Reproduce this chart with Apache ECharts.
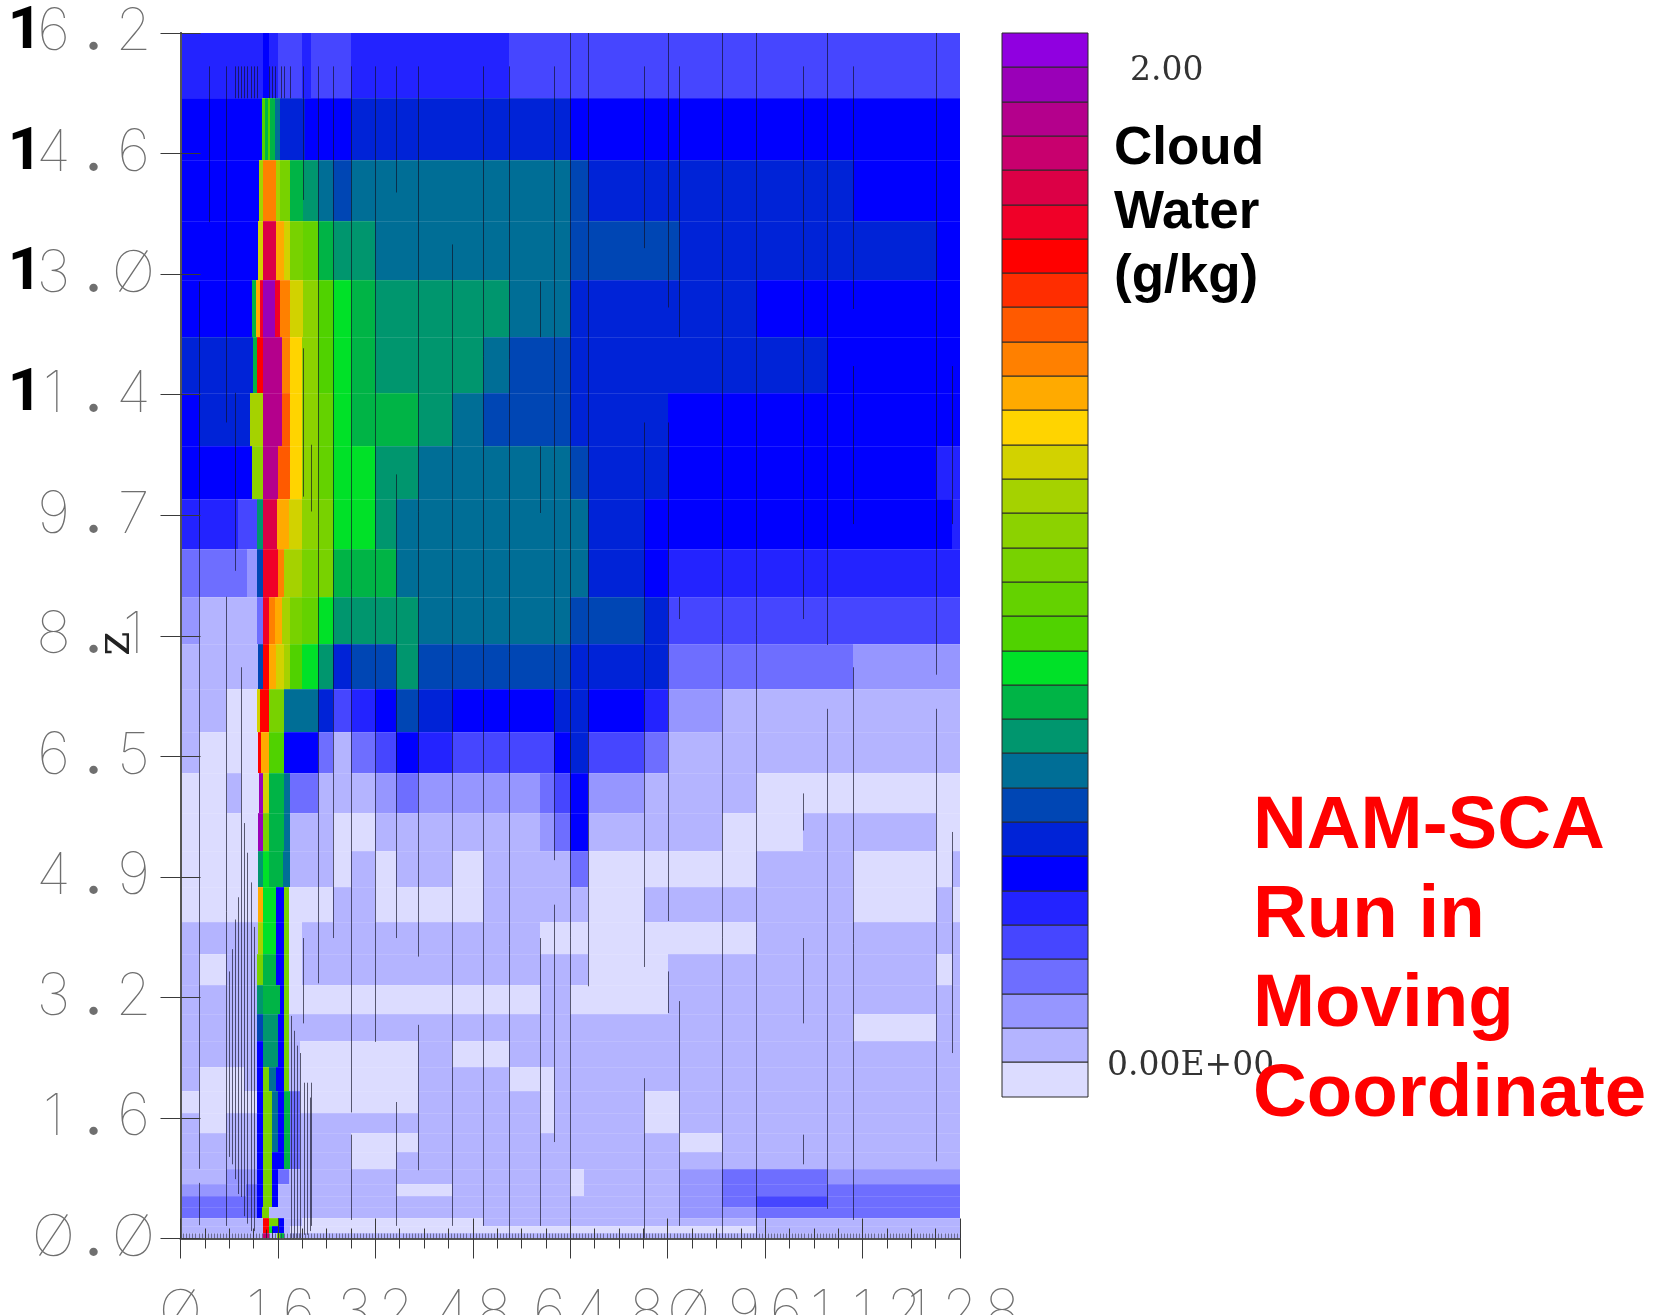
<!DOCTYPE html>
<html><head><meta charset="utf-8">
<style>html,body{margin:0;padding:0;background:#fff;overflow:hidden}#c{width:1663px;height:1315px}</style>
<script src="https://cdn.jsdelivr.net/npm/echarts@6/dist/echarts.min.js"></script>
</head><body><div id="c"></div>
<script>
// Colour levels, lightest (0.00) to darkest (2.00)
const palette = ['#dcdcff','#b4b4ff','#9696ff','#6e6eff','#4646ff','#2323ff','#0000ff','#0023d7','#0046b4','#006e96','#00966e','#00b446','#00e128','#50d200','#64d200','#78d200','#8cd200','#a5d200','#d2d200','#ffd400','#ffaa00','#ff8000','#ff5a00','#ff2d00','#ff0000','#f00028','#dc0046','#c8006e','#b4008c','#9a00b8','#9000e0'];
const xTickLabels = ['0','16','32','48','64','80','96','112','128'];
const yTickLabels = ['0.0','1.6','3.2','4.9','6.5','8.1','9.7','11.4','13.0','14.6','16.2'];
// Layer edges in z, top to bottom
const zEdges = [16.25,15.37,14.54,13.72,12.92,12.15,11.40,10.68,9.97,9.30,8.65,8.01,7.41,6.83,6.27,5.74,5.23,4.74,4.27,3.84,3.42,3.03,2.66,2.31,1.99,1.69,1.42,1.17,0.94,0.74,0.57,0.42,0.28,0.17,0.08,0];
// For each layer, top to bottom: runs of [x at end of run, colour level]
const rowRuns = [
[[13.5,5],[14.5,6],[16,5],[20,4],[21.4,5],[28,4],[54,5],[128,4]],
[[13.4,6],[13.9,13],[14.3,11],[14.7,13],[15.5,11],[16.3,9],[20.4,7],[28,6],[64,7],[128,6]],
[[12.9,6],[13.5,17],[15.6,21],[16.3,17],[18,15],[20.1,11],[22.5,10],[25,9],[28,8],[64,9],[66.9,8],[110.5,7],[128,6]],
[[12.7,6],[13.5,18],[15.6,26],[17,20],[18,18],[20.1,15],[22.5,14],[25,11],[32,10],[64,9],[81.9,8],[124,7],[128,6]],
[[11.7,6],[12.4,11],[13,20],[13.5,25],[15.5,29],[16.3,25],[18,21],[20.1,18],[22.5,16],[25,13],[28,12],[32,11],[53.9,10],[64,9],[94.5,7],[128,6]],
[[11.9,7],[12.6,11],[13.5,24],[16.6,28],[18,21],[20,19],[22.5,16],[25,13],[28,12],[32,11],[49.6,10],[53.9,9],[64,8],[106.1,7],[128,6]],
[[3.1,6],[11.4,7],[13.5,17],[16.6,28],[18,22],[20,19],[22.5,16],[25,14],[28,12],[39,11],[44.6,10],[49.6,9],[64,8],[80,7],[128,6]],
[[11.8,6],[13.5,16],[16,28],[18,22],[20,19],[22.5,16],[25,14],[32,12],[39,10],[64,9],[66.9,8],[80,7],[124,6],[128,5]],
[[9.4,5],[12.6,4],[13.5,10],[15.8,26],[17.8,20],[20,18],[22.5,16],[25,15],[32,12],[35.4,10],[66.9,9],[76.1,7],[126.7,6],[128,5]],
[[11,3],[12.5,2],[13.5,8],[16,25],[17,21],[20,17],[25,15],[35.4,11],[66.9,9],[76.1,7],[80,6],[128,5]],
[[3.1,2],[12.5,1],[13.5,3],[14.5,25],[15.5,21],[16.6,20],[18,17],[20,15],[22.5,14],[25,12],[39,10],[64,9],[76.1,8],[80,7],[128,4]],
[[12.7,1],[13.5,8],[14.5,24],[15.6,20],[17,18],[18,17],[20,13],[22.5,12],[25,10],[28,7],[35.4,8],[39,10],[64,8],[80,7],[110.5,3],[128,2]],
[[7.5,1],[12.6,0],[13.1,18],[14.5,24],[17,15],[22.5,9],[25,7],[28,4],[32,5],[35.4,6],[39,8],[44.6,7],[61.3,6],[66.9,7],[76.1,6],[80,5],[89,2],[128,1]],
[[3.1,1],[12.7,0],[13.3,24],[14.5,20],[17,13],[22.5,6],[25,3],[28,1],[32,3],[35.4,4],[39,6],[44.6,5],[61.3,4],[64,6],[66.9,7],[76.1,4],[80,3],[128,1]],
[[7.6,0],[10,1],[12.9,0],[13.5,29],[14.5,18],[17,11],[18,9],[22.5,3],[32,1],[35.4,2],[39,3],[59,2],[61.3,3],[64,4],[66.9,6],[76.1,2],[94.5,1],[128,0]],
[[12.7,0],[13.5,29],[14.5,15],[17,11],[18,9],[25,1],[32,0],[59,1],[61.3,2],[64,3],[66.9,6],[89,1],[102.2,0],[124,1],[128,0]],
[[12.7,0],[13.5,10],[14.5,12],[16.8,11],[18,9],[25,1],[28,0],[32,1],[35.4,0],[44.6,1],[49.6,0],[64,1],[66.9,3],[94.5,0],[110.5,1],[126.7,0],[128,1]],
[[12.7,0],[13.6,20],[15.6,12],[17,6],[17.8,15],[25,0],[32,1],[49.6,0],[66.9,1],[76.1,0],[110.5,1],[124,0],[126.7,1],[128,0]],
[[12.7,1],[13.6,17],[15.6,12],[17,6],[17.8,15],[20,0],[59,1],[94.5,0],[128,1]],
[[3.1,1],[7.5,0],[12.6,1],[13.6,15],[15.6,11],[17,6],[17.8,15],[20,0],[66.9,1],[80,0],[124,1],[126.7,0],[128,1]],
[[12.6,1],[13.6,10],[16.4,11],[17,6],[17.8,15],[59,0],[64,1],[80,0],[128,1]],
[[12.6,1],[13.6,8],[16,10],[17,6],[17.8,15],[110.5,1],[124,0],[128,1]],
[[12.6,1],[13.6,6],[16,10],[17,6],[17.8,15],[19.7,1],[39,0],[44.6,1],[53.9,0],[128,1]],
[[3.1,1],[10.5,0],[12.6,1],[13.6,6],[14.5,15],[15.6,9],[17,6],[17.8,15],[19.7,1],[39,0],[53.9,1],[61.3,0],[128,1]],
[[12.6,0],[13.6,6],[15,15],[16,9],[17,6],[18,11],[19.7,3],[39,0],[59,1],[61.3,0],[76.1,1],[81.9,0],[128,1]],
[[3.1,1],[7.5,0],[12.6,1],[13.6,6],[15,15],[16,9],[17,6],[18,11],[19.7,3],[59,1],[61.3,0],[76.1,1],[81.9,0],[128,1]],
[[12.6,1],[13.6,6],[15,15],[16,9],[17,6],[18,11],[19.7,3],[28,1],[39,0],[81.9,1],[89,0],[128,1]],
[[12.6,1],[13.6,6],[15,15],[17,6],[18,11],[19.7,3],[28,1],[35.4,0],[128,1]],
[[7.5,1],[12.6,2],[13.6,6],[15,15],[16,6],[17.8,3],[64,1],[66.2,0],[81.9,1],[89,2],[106.1,3],[128,2]],
[[10.8,2],[12.6,3],[13.6,6],[15,15],[16,6],[35.4,1],[44.6,0],[64,1],[66.2,0],[81.9,1],[89,2],[128,3]],
[[12.6,3],[13.6,6],[15,15],[16,6],[81.9,1],[89,2],[94.5,3],[106.1,4],[128,3]],
[[12.6,3],[13.4,6],[14.5,15],[17.8,1],[81.9,1],[94.5,2],[128,3]],
[[13.5,1],[14.5,24],[16,15],[17,6],[20,1],[49.6,0],[128,1]],
[[13.5,1],[14.5,24],[15,12],[17,6],[18,1],[94.5,0],[128,1]],
[[13.5,1],[14.5,27],[15.8,1],[16.3,15],[17,11],[128,1]]
];
// Dark contour strokes: [x, z bottom, z top]
const darkLines = [
[3.1,0.94,12.9],[3.1,0.18,0.75],[4.7,13.7,15.8],[7.4,11,15.8],[7.4,0.17,8.65],[9,9,11.4],[10,0.56,7.7],
[20.1,14,15.8],[20.1,10,12],[20.1,2.9,4.05],[21.4,0.17,2.1],[21.4,9.8,10.7],[22.5,3.44,15.8],[25,4.05,15.8],[28,1.7,15.8],[28,0.25,1.4],
[32,2.65,15.8],[35.4,14.1,15.8],[35.4,4.05,10.3],[35.4,0.17,1.84],[39,3.8,15.8],[39,0.92,2.88],[44.6,0.17,13.4],[49.6,0.17,15.8],
[53.9,0,15.8],[59,12.15,12.9],[59,9.78,10.68],[59,0.17,4.05],[61.3,5.1,15.8],[61.3,1.3,4.5],[64,0,16.25],[66.9,3.4,16.25],
[76.1,13.35,15.8],[76.1,3.66,11],[76.1,0,2.16],[80,12.55,16.25],[80,4.28,11],[80,3.04,3.6],[81.9,12.15,15.8],[81.9,8.35,8.65],[81.9,0.17,3.2],
[89,0,16.25],[94.5,0,16.25],[102.2,8.35,15.8],[102.2,5.5,6],[102.2,2.9,4.05],[102.2,1,1.4],[106.1,8,16.25],[106.1,0.4,7.14],
[110.5,12.53,15.8],[110.5,9.63,11.76],[110.5,0.25,7.7],[124,7.6,16.25],[124,1.04,7.14],[126.7,9.63,11.76],[126.7,2.5,5.48],
[9,15.37,15.8],[9.5,15.37,15.8],[10,15.37,15.8],[10.5,15.37,15.8],[11,15.37,15.8],[11.5,15.37,15.8],[12,15.37,15.8],[12.5,15.37,15.8],[14.5,15.37,15.8],[15,15.37,15.8],[15.5,15.37,15.8],[16.5,15.37,15.8],[17,15.37,15.8],[18,15.37,15.8],
[7.9,1.1,3.6],[8.4,1.0,3.9],[8.9,0.8,4.3],[9.4,0.6,4.6],[10.5,0.3,5.6],[11,0.2,5.2],[11.5,0.1,4.8],[12,0.1,4.2],
[18.2,0,3.0],[18.7,0,2.8],[19.2,0,2.6],[19.7,0,2.5],[20.2,0.05,2.1],[20.7,0.05,2.1],[21.2,0.1,1.9],[14,0,0.12],[15,0,0.12]
];
const legendLevels = palette.map((c,i)=>i);

const cells = [];
rowRuns.forEach((runs,r)=>{ let x0=0; runs.forEach(([x1,lvl])=>{ cells.push([x0,x1,zEdges[r+1],zEdges[r],lvl]); x0=x1; }); });
const legendCells = legendLevels.map(i=>[0,1,i,i+1,i]);
const lineData = darkLines.map(d=>[d[0],d[1],d[2]]);
const edgeData = zEdges.slice(1,-1).map(z=>[z]);

function rectItem(stroke){
  return function(params,api){
    const a=api.coord([api.value(0),api.value(3)]), b=api.coord([api.value(1),api.value(2)]);
    const x=Math.round(a[0]), y=Math.round(a[1]);
    return {type:'rect',shape:{x,y,width:Math.round(b[0])-x,height:Math.round(b[1])-y},
      style:{fill:palette[api.value(4)],stroke:stroke||null,lineWidth:stroke?1:0}};
  };
}
const TK='#3a3a3a';
const thin='Inter, Lato, "Open Sans", sans-serif';
const digit={fontFamily:thin,fontWeight:100,fontSize:58,color:'#6f6f6f',align:'center'};
const yRich={b:{fontFamily:'Roboto',fontWeight:'bold',fontSize:60,color:'#000',width:17,align:'center'},d:Object.assign({width:40},digit),p:Object.assign({width:40},digit,{fontWeight:500})};
const xRich={d:Object.assign({width:42},digit)};
function yFmt(v){
  const s=yTickLabels[Math.round(v/1.625)]; if(!s) return '';
  const [a,b]=s.split('.'); let o='';
  if(a.length===2) o+='{b|'+a[0]+'}';
  const last=a[a.length-1]==='0'?'Ø':a[a.length-1];
  return o+'{d|'+last+'}{p|.}{d|'+(b==='0'?'Ø':b)+'}';
}
function xFmt(v){
  const s=xTickLabels[Math.round(v/16)]; if(s==null) return '';
  return s.split('').map(c=>'{d|'+(c==='0'?'Ø':c)+'}').join('');
}
const xFmtMain=v=>v>=128?'':xFmt(v);
const xFmtLast=v=>v>=128?xFmt(v):'';
const mainGrid={left:180.5,right:703,top:33,height:1205.5,outerBoundsMode:'none'};
const txt=(x,y,t,size,fill,weight,font)=>({type:'text',left:x,top:y,z:50,style:{text:t,fontSize:size,fontWeight:weight||'bold',fontFamily:font||'"Liberation Sans"',fill:fill}});
const option={
  animation:false,backgroundColor:'#fff',tooltip:{show:false},
  grid:[mainGrid,{left:1002,width:86,top:33,height:1063.5,outerBoundsMode:'none'}],
  xAxis:[
    {type:'value',gridIndex:0,position:'bottom',min:0,max:128,interval:16,z:6,
      axisLine:{show:true,lineStyle:{color:'#555',width:2}},
      axisTick:{show:true,length:20,lineStyle:{color:TK,width:1}},
      minorTick:{show:true,splitNumber:4,length:10,lineStyle:{color:TK,width:1}},
      splitLine:{show:false},
      axisLabel:{show:true,margin:46,formatter:xFmtMain,rich:xRich,hideOverlap:false}},
    {type:'value',gridIndex:0,position:'top',min:0,max:128,interval:16,z:6,
      axisLine:{show:true,lineStyle:{color:'#555',width:1}},
      axisTick:{show:true,length:20,lineStyle:{color:TK,width:1}},
      minorTick:{show:true,splitNumber:4,length:10,lineStyle:{color:TK,width:1}},
      splitLine:{show:false},axisLabel:{show:false}},
    {type:'value',gridIndex:0,position:'bottom',min:0,max:128,interval:0.5,z:6,
      axisLine:{show:false},axisTick:{show:true,inside:true,length:5,lineStyle:{color:'rgba(50,50,60,.55)',width:1}},
      splitLine:{show:false},axisLabel:{show:false}},
    {type:'value',gridIndex:1,min:0,max:1,show:false},
    {type:'value',gridIndex:0,position:'bottom',min:0,max:128,interval:16,z:6,
      axisLine:{show:false},axisTick:{show:false},splitLine:{show:false},
      axisLabel:{show:true,margin:46,formatter:xFmtLast,rich:xRich,hideOverlap:false,showMaxLabel:true}}
  ],
  yAxis:[
    {type:'value',gridIndex:0,position:'left',min:0,max:16.25,interval:1.625,z:6,
      name:'z',nameLocation:'middle',nameGap:66,nameRotate:90,nameMoveOverlap:false,
      nameTextStyle:{fontFamily:'"DejaVu Serif"',fontSize:46,color:'#222',padding:[0,16,-26,0]},
      axisLine:{show:true,lineStyle:{color:'#555',width:2}},
      axisTick:{show:true,length:20,lineStyle:{color:TK,width:1}},
      splitLine:{show:false},
      axisLabel:{show:true,margin:27,formatter:yFmt,rich:yRich,showMinLabel:true,showMaxLabel:true}},
    {type:'value',gridIndex:0,position:'right',min:0,max:16.25,interval:1.625,z:6,
      axisLine:{show:true,lineStyle:{color:'#555',width:2}},
      axisTick:{show:true,length:20,lineStyle:{color:TK,width:1}},
      splitLine:{show:false},axisLabel:{show:false}},
    {type:'value',gridIndex:1,min:0,max:31,show:false}
  ],
  series:[
    {type:'custom',name:'Cloud water',xAxisIndex:0,yAxisIndex:0,coordinateSystem:'cartesian2d',clip:true,silent:true,z:2,
      encode:{x:[0,1],y:[2,3]},renderItem:rectItem(),data:cells},
    {type:'custom',name:'Layer edges',xAxisIndex:0,yAxisIndex:0,clip:true,silent:true,z:3,encode:{y:0},
      renderItem:(p,api)=>{const a=api.coord([0,api.value(0)]),b=api.coord([128,api.value(0)]);const y=Math.round(a[1])+.5;
        return {type:'line',shape:{x1:a[0],y1:y,x2:b[0],y2:y},style:{stroke:'rgba(255,255,255,.12)',lineWidth:1}};},data:edgeData},
    {type:'custom',name:'Contour strokes',xAxisIndex:0,yAxisIndex:0,clip:true,silent:true,z:4,encode:{x:0,y:[1,2]},
      renderItem:(p,api)=>{const a=api.coord([api.value(0),api.value(1)]),b=api.coord([api.value(0),api.value(2)]);const x=Math.round(a[0])+.5;
        return {type:'line',shape:{x1:x,y1:a[1],x2:x,y2:b[1]},style:{stroke:'rgba(15,15,35,.65)',lineWidth:1}};},data:lineData},
    {type:'custom',name:'Colour key',xAxisIndex:3,yAxisIndex:2,clip:false,silent:true,z:2,encode:{x:[0,1],y:[2,3]},
      renderItem:rectItem('#2a2a2a'),data:legendCells}
  ],
  graphic:[
    txt(1130,55,'2.00',33,'#333','normal','"DejaVu Serif"'),
    txt(1107,1050,'0.00E+00',33,'#333','normal','"DejaVu Serif"'),
    txt(1114,123,'Cloud',53,'#000'),
    txt(1114,187,'Water',53,'#000'),
    txt(1114,251,'(g/kg)',53,'#000'),
    txt(1253,790,'NAM-SCA',74.5,'#f00'),
    txt(1253,879,'Run in',74.5,'#f00'),
    txt(1253,968,'Moving',74.5,'#f00'),
    txt(1253,1058,'Coordinate',74.5,'#f00')
  ]
};
echarts.init(document.getElementById('c'),null,{renderer:'canvas'}).setOption(option);
</script></body></html>
